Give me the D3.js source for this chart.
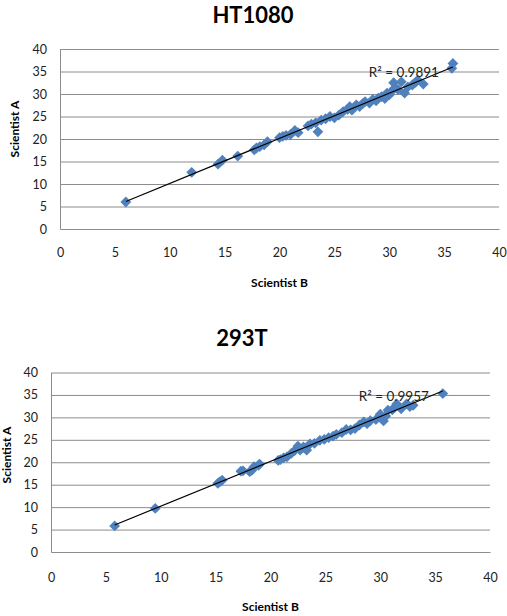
<!DOCTYPE html>
<html>
<head>
<meta charset="utf-8">
<script src="https://cdn.jsdelivr.net/npm/d3@7"></script>
<style>
  body { margin: 0; background: #fff; }
  svg { display: block; font-family: Lato, "Open Sans", sans-serif; }
</style>
</head>
<body>
<div id="chart"></div>
<script>
// Scientist B (x), Scientist A (y)
var ht1080B = [6.0, 12.0, 14.4, 14.8, 16.2, 17.7, 17.9, 18.2, 18.6, 18.9, 20.0, 20.3, 20.6, 21.0, 21.4,
  21.7, 22.6, 22.9, 23.3, 23.5, 23.8, 24.2, 24.6, 25.0, 25.4, 25.8, 26.2, 26.4, 26.6, 27.0, 27.3,
  27.6, 27.8, 28.2, 28.5, 28.8, 29.0, 29.3, 29.6, 29.8, 30.0, 30.2, 30.4, 30.5, 30.8, 31.1, 31.4,
  31.7, 32.1, 32.4, 32.6, 33.1, 35.7, 35.8];
var ht1080A = [6.0, 12.6, 14.4, 15.3, 16.2, 17.6, 18.0, 18.3, 18.7, 19.4, 20.3, 20.6, 20.8, 21.0, 21.9,
  21.4, 22.9, 23.3, 23.6, 21.6, 24.2, 24.5, 25.0, 24.7, 25.3, 26.1, 26.6, 27.2, 26.4, 27.6, 27.2,
  27.9, 28.3, 28.0, 28.8, 28.5, 29.1, 29.4, 29.0, 30.2, 29.8, 30.6, 32.5, 31.3, 31.0, 32.7, 30.2,
  31.6, 32.0, 32.6, 33.1, 32.2, 35.7, 36.8];

var t293B = [5.8, 9.5, 15.2, 15.4, 15.6, 17.3, 17.5, 18.1, 18.3, 18.5, 18.9, 19.0, 20.7, 20.9, 21.2,
  21.5, 21.9, 22.2, 22.5, 22.7, 23.0, 23.3, 23.6, 24.0, 24.5, 24.9, 25.3, 25.7, 26.0, 26.5, 26.9,
  27.3, 27.7, 28.1, 28.5, 28.8, 29.1, 29.6, 30.0, 30.3, 30.5, 30.7, 31.1, 31.3, 31.5, 31.9, 32.4,
  32.7, 33.0, 35.7];
var t293A = [5.8, 9.7, 15.3, 15.7, 16.0, 18.0, 18.1, 17.9, 18.2, 19.0, 19.3, 19.6, 20.4, 20.6, 21.0,
  21.2, 22.0, 22.6, 23.6, 22.7, 23.4, 22.7, 24.1, 24.2, 24.9, 25.1, 25.5, 25.8, 26.2, 26.6, 27.3,
  27.2, 27.5, 28.3, 29.0, 28.6, 29.3, 29.5, 30.7, 29.2, 30.3, 31.6, 31.7, 32.2, 33.0, 31.9, 33.0,
  32.4, 32.7, 35.3];

var titles = ['HT1080', '293T'];
var rSquared = ['R\u00b2 = 0.9891', 'R\u00b2 = 0.9957'];
var xTicks = [0, 5, 10, 15, 20, 25, 30, 35, 40];
var yTicks = [0, 5, 10, 15, 20, 25, 30, 35, 40];
var xTitle = 'Scientist B';
var yTitle = 'Scientist A';

var width = 507;
var height = 616;

var layouts = [
  { left: 60, right: 499, top: 49, bottom: 229, titleX: 253, titleY: 23, xPad: 19, xTitleY: 287, yTitleX: 15, yTitleY: 129 },
  { left: 51, right: 490, top: 372.5, bottom: 552, titleX: 242, titleY: 346, xPad: 21, xTitleY: 611, yTitleX: 7, yTitleY: 455 }
];

var blue = '#4f81bd';
var grid = '#8c8c8c';

var svg = d3.select('#chart')
  .append('svg')
    .attr('width', width)
    .attr('height', height);

drawScatter(ht1080B, ht1080A, titles[0], rSquared[0], layouts[0]);
drawScatter(t293B, t293A, titles[1], rSquared[1], layouts[1]);

function drawScatter(xs, ys, title, label, lay) {

  var data = xs.map(function (x, i) { return { x: x, y: ys[i] }; });

  var xScale = d3.scaleLinear().domain([0, 40]).range([lay.left, lay.right]);
  var yScale = d3.scaleLinear().domain([0, 40]).range([lay.bottom, lay.top]);

  var g = svg.append('g');

  // gridlines
  g.append('g')
      .attr('transform', 'translate(' + lay.left + ',0)')
      .call(d3.axisLeft(yScale).tickValues(yTicks.slice(1)).tickSize(-(lay.right - lay.left)).tickFormat(''))
      .call(function (s) {
        s.select('.domain').remove();
        s.selectAll('line').attr('stroke', grid);
      });

  // y axis
  g.append('g')
      .attr('transform', 'translate(' + lay.left + ',0)')
      .call(d3.axisLeft(yScale).tickValues(yTicks).tickSize(0).tickPadding(13))
      .call(function (s) {
        s.select('.domain').attr('stroke', grid);
        s.selectAll('text').attr('font-size', 12.5).attr('fill', '#222').attr('font-family', 'Lato, sans-serif');
      });

  // x axis
  g.append('g')
      .attr('transform', 'translate(0,' + lay.bottom + ')')
      .call(d3.axisBottom(xScale).tickValues(xTicks).tickSize(0).tickPadding(lay.xPad))
      .call(function (s) {
        s.select('.domain').attr('stroke', grid);
        s.selectAll('text').attr('font-size', 12.5).attr('fill', '#222').attr('font-family', 'Lato, sans-serif');
      });

  // points
  g.selectAll('.pt')
      .data(data)
      .enter()
    .append('path')
      .attr('class', 'pt')
      .attr('d', d3.symbol().type(d3.symbolSquare).size(58))
      .attr('transform', function (d) {
        return 'translate(' + xScale(d.x) + ',' + yScale(d.y) + ') rotate(45)';
      })
      .attr('fill', blue);

  // linear trend line
  var mx = d3.mean(data, function (d) { return d.x; });
  var my = d3.mean(data, function (d) { return d.y; });
  var sxy = d3.sum(data, function (d) { return (d.x - mx) * (d.y - my); });
  var sxx = d3.sum(data, function (d) { return (d.x - mx) * (d.x - mx); });
  var slope = sxy / sxx;
  var icpt = my - slope * mx;
  var x0 = d3.min(xs);
  var x1 = d3.max(xs);

  g.append('line')
      .attr('x1', xScale(x0))
      .attr('y1', yScale(icpt + slope * x0))
      .attr('x2', xScale(x1))
      .attr('y2', yScale(icpt + slope * x1))
      .attr('stroke', '#000')
      .attr('stroke-width', 1.2);

  g.append('text')
      .attr('x', xScale(x1) - 14)
      .attr('y', yScale(icpt + slope * x1) + 10)
      .attr('text-anchor', 'end')
      .attr('font-size', 13.5)
      .attr('fill', '#222')
      .text(label);

  // titles
  g.append('text')
      .attr('x', lay.titleX)
      .attr('y', lay.titleY)
      .attr('text-anchor', 'middle')
      .attr('font-size', 22)
      .attr('font-weight', 'bold')
      .text(title);

  g.append('text')
      .attr('x', (lay.left + lay.right) / 2)
      .attr('y', lay.xTitleY)
      .attr('text-anchor', 'middle')
      .attr('font-size', 12)
      .attr('font-weight', 'bold')
      .text(xTitle);

  g.append('text')
      .attr('transform', 'translate(' + lay.yTitleX + ',' + lay.yTitleY + ') rotate(-90)')
      .attr('text-anchor', 'middle')
      .attr('dy', '0.35em')
      .attr('font-size', 12)
      .attr('font-weight', 'bold')
      .text(yTitle);
}
</script>
</body>
</html>
